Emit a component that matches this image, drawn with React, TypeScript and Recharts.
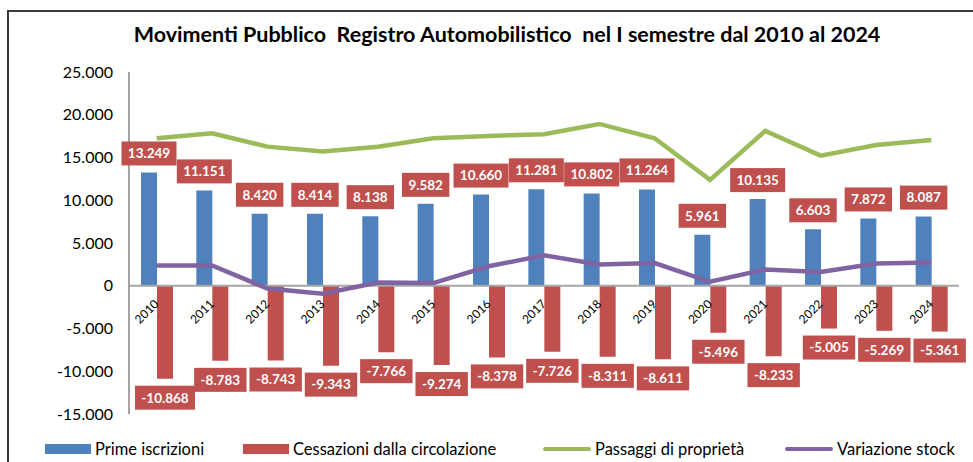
import { ComposedChart, Bar, Line, XAxis, YAxis, ReferenceLine, LabelList } from "recharts";

const years = ["2010", "2011", "2012", "2013", "2014", "2015", "2016", "2017", "2018", "2019", "2020", "2021", "2022", "2023", "2024"];
const primeIscrizioni = [13249, 11151, 8420, 8414, 8138, 9582, 10660, 11281, 10802, 11264, 5961, 10135, 6603, 7872, 8087];
const cessazioni = [-10868, -8783, -8743, -9343, -7766, -9274, -8378, -7726, -8311, -8611, -5496, -8233, -5005, -5269, -5361];
const passaggi = [17255, 17840, 16270, 15690, 16250, 17255, 17520, 17720, 18925, 17255, 12380, 18110, 15220, 16470, 17055];
const variazioneStock = [2381, 2368, -323, -929, 372, 308, 2282, 3555, 2491, 2653, 465, 1902, 1598, 2603, 2726];
const yTicks = [-15000, -10000, -5000, 0, 5000, 10000, 15000, 20000, 25000];

const data = years.map((year, i) => ({
  year,
  prime: primeIscrizioni[i],
  cess: cessazioni[i],
  pass: passaggi[i],
  stock: variazioneStock[i],
}));

const legendItems = [
  { name: "Prime iscrizioni", color: "#4F81BD", kind: "rect", left: 45 },
  { name: "Cessazioni dalla circolazione", color: "#C0504D", kind: "rect", left: 243 },
  { name: "Passaggi di proprietà", color: "#9BBB59", kind: "line", left: 543 },
  { name: "Variazione stock", color: "#8064A2", kind: "line", left: 785 },
];

const FONT = "Lato, 'Open Sans', sans-serif";

const fmt = (v: number) => {
  const s = String(Math.abs(Math.round(v))).replace(/\B(?=(\d{3})+(?!\d))/g, ".");
  return v < 0 ? "-" + s : s;
};

// rough width of the bold label text, to size the red box
const textWidth = (s: string) =>
  s.split("").reduce((w, c) => w + (c === "." ? 3 : c === "-" ? 5 : 7.6), 0);

const valueBox = (above: boolean) => (props: any) => {
  const { x, y, width, height, value } = props;
  const top = Math.min(y, y + height);
  const bottom = Math.max(y, y + height);
  const text = fmt(Number(value));
  const w = textWidth(text) + 14;
  const h = 24;
  const cx = x + width / 2;
  const by = above ? top - 7 - h : bottom + 7;
  return (
    <g>
      <rect x={cx - w / 2} y={by} width={w} height={h} fill="#C0504D" />
      <text
        x={cx}
        y={by + h / 2}
        dy="0.36em"
        textAnchor="middle"
        fill="#fff"
        fontWeight={700}
        fontSize={13.5}
        fontFamily={FONT}
      >
        {text}
      </text>
    </g>
  );
};

const YearLabel = (props: any) => {
  const { x, y, height, value } = props;
  const zero = Math.min(y, y + height);
  const ax = x + 2.5;
  const ay = zero + 19;
  return (
    <text
      x={ax}
      y={ay}
      transform={`rotate(-45 ${ax} ${ay})`}
      textAnchor="end"
      fontSize={12}
      fontFamily={FONT}
      fill="#000"
    >
      {value}
    </text>
  );
};

export default function App() {
  return (
    <div style={{ position: "absolute", left: 0, top: 0, width: 973, height: 462, background: "#fff", overflow: "hidden" }}>
      <div
        style={{
          position: "absolute",
          left: 7,
          top: 10,
          width: 1000,
          height: 500,
          borderLeft: "2px solid #3a3a3a",
          borderTop: "2px solid #3a3a3a",
        }}
      />
      <div
        style={{
          position: "absolute",
          left: 0,
          top: 24,
          width: 1014,
          textAlign: "center",
          fontFamily: FONT,
          fontWeight: 700,
          fontSize: 21.5,
          lineHeight: "21px",
          color: "#000",
          whiteSpace: "pre",
        }}
      >
        {"Movimenti Pubblico  Registro Automobilistico  nel I semestre dal 2010 al 2024"}
      </div>
      <div style={{ position: "absolute", left: 0, top: 0 }}>
        <ComposedChart
          width={973}
          height={462}
          data={data}
          margin={{ top: 72, right: 14, bottom: 48, left: 0 }}
          barGap={0}
        >
          <XAxis dataKey="year" hide />
          <YAxis
            width={129}
            domain={[-15000, 25000]}
            ticks={yTicks}
            tickFormatter={fmt}
            tickLine={false}
            tickSize={0}
            tickMargin={16}
            axisLine={{ stroke: "#868686", strokeWidth: 1.5 }}
            tick={{ fill: "#000", fontSize: 16, fontFamily: FONT }}
            interval={0}
          />
          <Bar dataKey="prime" name="Prime iscrizioni" fill="#4F81BD" barSize={16} isAnimationActive={false}>
            <LabelList dataKey="prime" content={valueBox(true)} />
          </Bar>
          <Bar dataKey="cess" name="Cessazioni dalla circolazione" fill="#C0504D" barSize={16} isAnimationActive={false}>
            <LabelList dataKey="cess" content={valueBox(false)} />
            <LabelList dataKey="year" content={YearLabel} />
          </Bar>
          <ReferenceLine y={0} stroke="#A6A6A6" strokeWidth={2} />
          <Line
            type="linear"
            dataKey="pass"
            name="Passaggi di proprietà"
            stroke="#9BBB59"
            strokeWidth={4.5}
            dot={false}
            isAnimationActive={false}
          />
          <Line
            type="linear"
            dataKey="stock"
            name="Variazione stock"
            stroke="#8064A2"
            strokeWidth={4.5}
            dot={false}
            isAnimationActive={false}
          />
        </ComposedChart>
      </div>
      {legendItems.map((item) => (
        <div
          key={item.name}
          style={{
            position: "absolute",
            left: item.left,
            top: 439,
            height: 20,
            display: "flex",
            alignItems: "center",
            fontFamily: FONT,
            fontSize: 16.5,
            color: "#000",
            whiteSpace: "nowrap",
          }}
        >
          <span
            style={{
              display: "inline-block",
              width: item.kind === "rect" ? 46 : 48,
              height: item.kind === "rect" ? 10 : 4,
              borderRadius: item.kind === "rect" ? 0 : 2,
              background: item.color,
              marginRight: 4,
            }}
          />
          {item.name}
        </div>
      ))}
    </div>
  );
}
